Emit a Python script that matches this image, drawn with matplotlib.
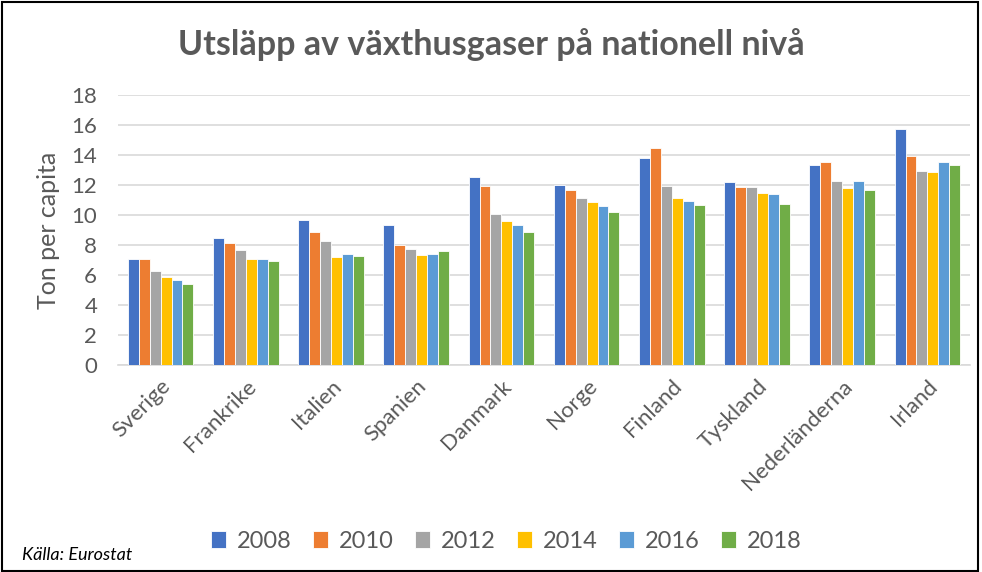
import matplotlib
matplotlib.use("Agg")
import matplotlib.pyplot as plt
import numpy as np
from matplotlib.patches import Rectangle

plt.rcParams['font.family'] = ['Lato', 'DejaVu Sans']

countries = ["Sverige", "Frankrike", "Italien", "Spanien", "Danmark", "Norge",
             "Finland", "Tyskland", "Nederländerna", "Irland"]
years = ["2008", "2010", "2012", "2014", "2016", "2018"]
v2008 = [7.1, 8.47, 9.67, 9.36, 12.56, 11.98, 13.82, 12.18, 13.31, 15.73]
v2010 = [7.1, 8.13, 8.84, 8.0, 11.93, 11.67, 14.47, 11.84, 13.51, 13.96]
v2012 = [6.27, 7.69, 8.27, 7.76, 10.04, 11.13, 11.91, 11.84, 12.29, 12.93]
v2014 = [5.84, 7.1, 7.2, 7.31, 9.6, 10.89, 11.13, 11.47, 11.78, 12.87]
v2016 = [5.64, 7.1, 7.38, 7.38, 9.36, 10.58, 10.96, 11.4, 12.24, 13.56]
v2018 = [5.4, 6.93, 7.27, 7.58, 8.89, 10.18, 10.69, 10.76, 11.67, 13.31]
series = [v2008, v2010, v2012, v2014, v2016, v2018]
colors = ["#4472C4", "#ED7D31", "#A5A5A5", "#FFC000", "#5B9BD5", "#70AD47"]
yticks = [0, 2, 4, 6, 8, 10, 12, 14, 16, 18]

gray = "#595959"
fig = plt.figure(figsize=(9.82, 5.72), dpi=100)
ax = fig.add_axes([118/982, 1-365/572, (970-118)/982, 270/572])

x = np.arange(len(countries))
bw = 0.128
for i, (vals, c, yr) in enumerate(zip(series, colors, years)):
    ax.bar(x + (i - 2.5) * bw, vals, width=bw, color=c, edgecolor="white",
           linewidth=0.6, label=yr, zorder=3)

ax.set_xlim(-0.5, len(countries) - 0.5)
ax.set_ylim(0, 18)
ax.set_yticks(yticks)
ax.set_yticklabels([str(t) for t in yticks], fontsize=16, color=gray)
ax.grid(axis="y", color="#D9D9D9", linewidth=1.2, zorder=0)
for s in ["top", "right", "left"]:
    ax.spines[s].set_visible(False)
ax.spines["bottom"].set_color("#D9D9D9")
ax.spines["bottom"].set_linewidth(1.2)
ax.tick_params(axis="x", length=0, pad=8)
ax.tick_params(axis="y", length=0, pad=15)
ax.set_xticks(x)
ax.set_xticklabels(countries, rotation=45, ha="right", rotation_mode="anchor",
                   fontsize=16, color=gray)
ax.set_ylabel("Ton per capita", fontsize=18, color=gray, labelpad=8)

fig.text(0.50, 1-45/572, "Utsläpp av växthusgaser på nationell nivå",
         ha="center", va="center", fontsize=24.5, fontweight="bold", color=gray)

leg = fig.legend(loc="center", bbox_to_anchor=(506/982, 1-541/572), ncol=6,
                 frameon=False, fontsize=17, handlelength=0.65, handleheight=0.7,
                 handletextpad=0.45, columnspacing=0.9, labelcolor=gray)

fig.text(22/982, 1-555/572, "Källa: Eurostat", ha="left", va="center",
         fontsize=13, style="italic", color="black")

fig.patches.append(Rectangle((0.002, 0.002), 0.994, 0.994, transform=fig.transFigure,
                             fill=False, edgecolor="black", linewidth=1.5))

fig.savefig("out.png", dpi=100)
